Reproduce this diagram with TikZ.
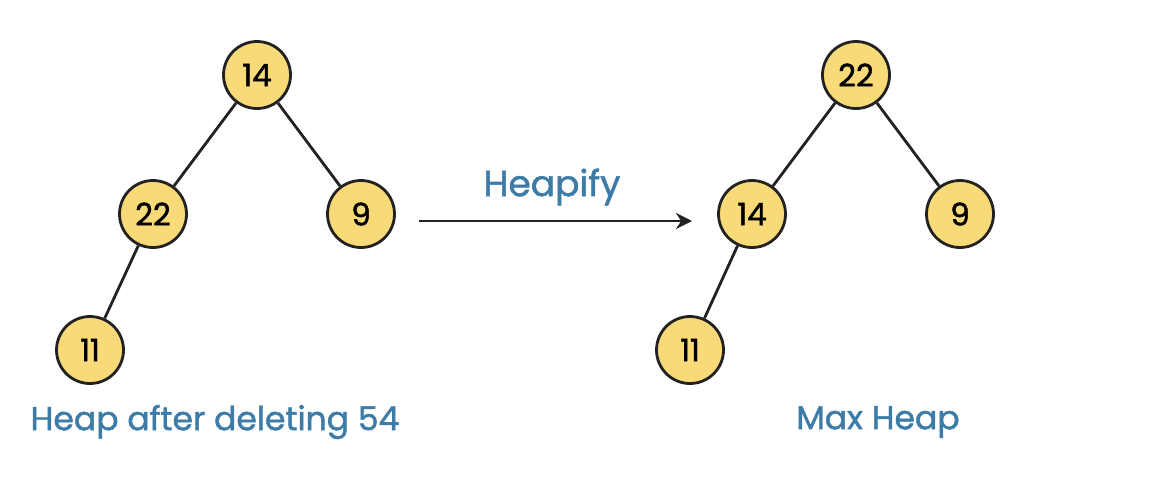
\documentclass[tikz,border=0pt]{standalone}
\usepackage{fontspec}
\setmainfont{Poppins}
\newfontfamily\medfont{Poppins}[FakeBold=1.4]
\usetikzlibrary{arrows.meta}
\definecolor{nodefill}{HTML}{F9DA78}
\definecolor{labelblue}{HTML}{3E7CA8}
\definecolor{edgecol}{HTML}{222222}
\begin{document}
\begin{tikzpicture}[x=1pt,y=-1pt,
  heapnode/.style={circle,draw=edgecol,line width=2.8pt,fill=nodefill,minimum size=67pt,inner sep=0pt,font=\medfont\fontsize{31}{34}\selectfont,text=black},
  edge/.style={draw=edgecol,line width=2.8pt},
  caption/.style={text=labelblue,font=\medfont\fontsize{33}{36}\selectfont}]
\useasboundingbox (0,0) rectangle (1169,499);
% left tree
\node[heapnode] (a14) at (257,75) {14};
\node[heapnode] (a22) at (153,214) {22};
\node[heapnode] (a9) at (361,214) {9};
\node[heapnode] (a11) at (90,350) {11};
\draw[edge] (a14) -- (a22);
\draw[edge] (a14) -- (a9);
\draw[edge] (a22) -- (a11);
% right tree
\node[heapnode] (b22) at (856,75) {22};
\node[heapnode] (b14) at (752,214) {14};
\node[heapnode] (b9) at (960,214) {9};
\node[heapnode] (b11) at (690,350) {11};
\draw[edge] (b22) -- (b14);
\draw[edge] (b22) -- (b9);
\draw[edge] (b14) -- (b11);
% arrow
\coordinate (s) at (419,221);
\coordinate (e) at (692,221);
\draw[edge,-{Stealth[length=16pt,width=16pt]}] (s) -- (e);
\node[caption,font=\medfont\fontsize{36}{38}\selectfont] (hp) at (552,187) {Heapify};
% captions
\node[caption] (c1) at (215,422) {Heap after deleting 54};
\node[caption] (c2) at (878,422) {Max Heap};
\end{tikzpicture}
\end{document}
